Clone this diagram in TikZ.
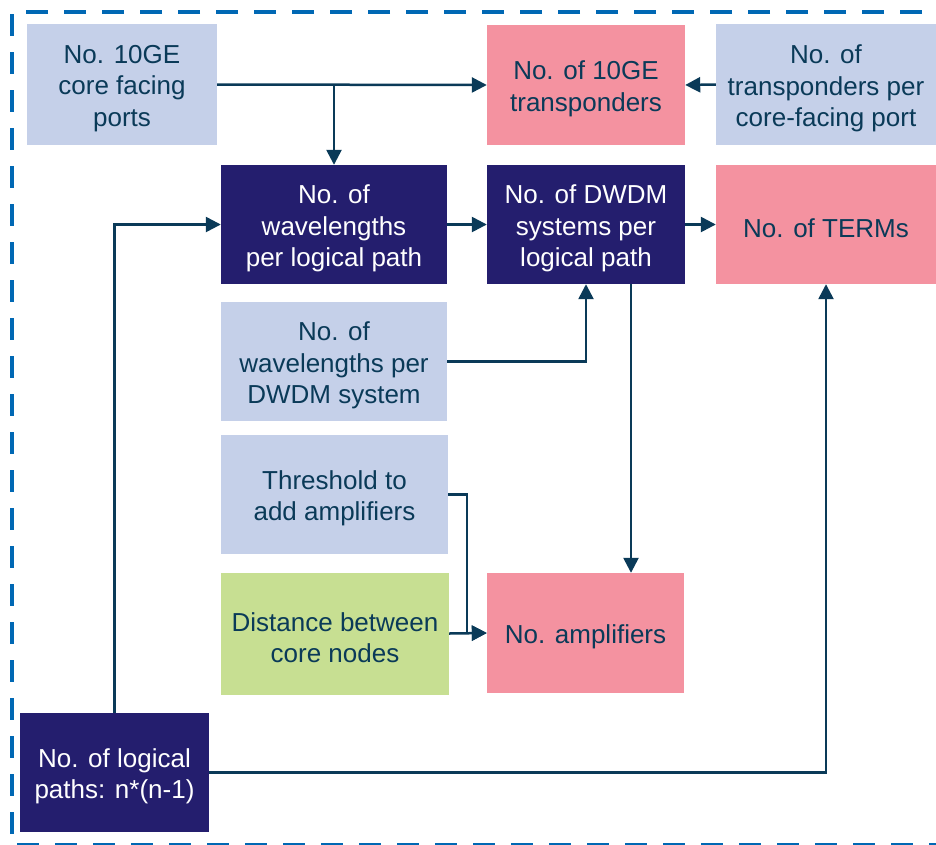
\documentclass[tikz,border=0pt]{standalone}
\usepackage{fontspec}
\setmainfont{Liberation Sans}
\usetikzlibrary{arrows.meta}
\definecolor{lb}{RGB}{197,208,233}
\definecolor{pk}{RGB}{244,146,160}
\definecolor{nv}{RGB}{36,30,110}
\definecolor{gr}{RGB}{199,223,146}
\definecolor{tx}{RGB}{10,58,88}
\definecolor{bd}{RGB}{0,104,180}
% #1 fill, #2 text colour, #3 name, #4 x, #5 y, #6 width, #7 height, #8 text
\newcommand\mybx[8]{%
  \node[boxfill, fill=#1, minimum width=#6pt, minimum height=#7pt] (#3) at (#4,#5) {};
  \node[boxtxt, text=#2] (#3t) at ([yshift=-4pt]#3.center) {#8};}
\begin{document}
\begin{tikzpicture}[x=1pt,y=-1pt,
  boxfill/.style={rectangle, inner sep=0pt, draw=none},
  boxtxt/.style={inner sep=0pt, align=center,
    font=\fontsize{26}{31.5}\selectfont},
  conn/.style={draw=tx, line width=2.5pt, -{Triangle[length=15pt,width=15pt]}}]
\useasboundingbox (0,0) rectangle (936,844);
\begin{scope}
\clip (0,0) rectangle (936,844);
\draw[bd, line width=4pt, dash pattern=on 22pt off 16pt] (960,12) -- (12,12) -- (12,845) -- (960,845);
\end{scope}

\mybx{lb}{tx}{A}{122}{84.5}{190}{121}{No. 10GE\\core facing\\ports}
\mybx{pk}{tx}{B}{586}{85}{198}{120}{No. of 10GE\\transponders}
\mybx{lb}{tx}{C}{826}{84.5}{220}{121}{No. of\\transponders per\\core-facing port}
\mybx{nv}{white}{D}{334}{224.5}{226}{119}{No. of\\wavelengths\\per logical path}
\mybx{nv}{white}{E}{586}{224.5}{198}{119}{No. of DWDM\\systems per\\logical path}
\mybx{pk}{tx}{F}{826}{224.5}{220}{119}{No. of TERMs}
\mybx{lb}{tx}{G}{334}{361.5}{226}{119}{No. of\\wavelengths per\\DWDM system}
\mybx{lb}{tx}{H}{334.5}{494.5}{227}{119}{Threshold to\\add amplifiers}
\mybx{gr}{tx}{I}{335}{633.5}{228}{122}{Distance between\\core nodes}
\mybx{pk}{tx}{J}{585.5}{633}{197}{120}{No. amplifiers}
\mybx{nv}{white}{K}{114.5}{772.5}{189}{119}{No. of logical\\paths: n*(n-1)}

\coordinate (j1) at (D.north |- A.east);
\coordinate (j2) at ([xshift=45pt]E.south);
\coordinate (j3) at ([xshift=19pt]H.east);

\draw[conn] (A.east) -- (B.west);
\draw[conn] (j1) -- (D.north);
\draw[conn] (C.west) -- (B.east);
\draw[conn] (D.east) -- (E.west);
\draw[conn] (E.east) -- (F.west);
\draw[conn] (G.east) -| (E.south);
\draw[conn] (j2) -- (j2 |- J.north);
\draw[conn] (H.east) -- (j3) |- (J.west);
\draw[conn] (I.east) -- (J.west);
\draw[conn] (K.north) |- (D.west);
\draw[conn] (K.east) -| (F.south);
\end{tikzpicture}
\end{document}
